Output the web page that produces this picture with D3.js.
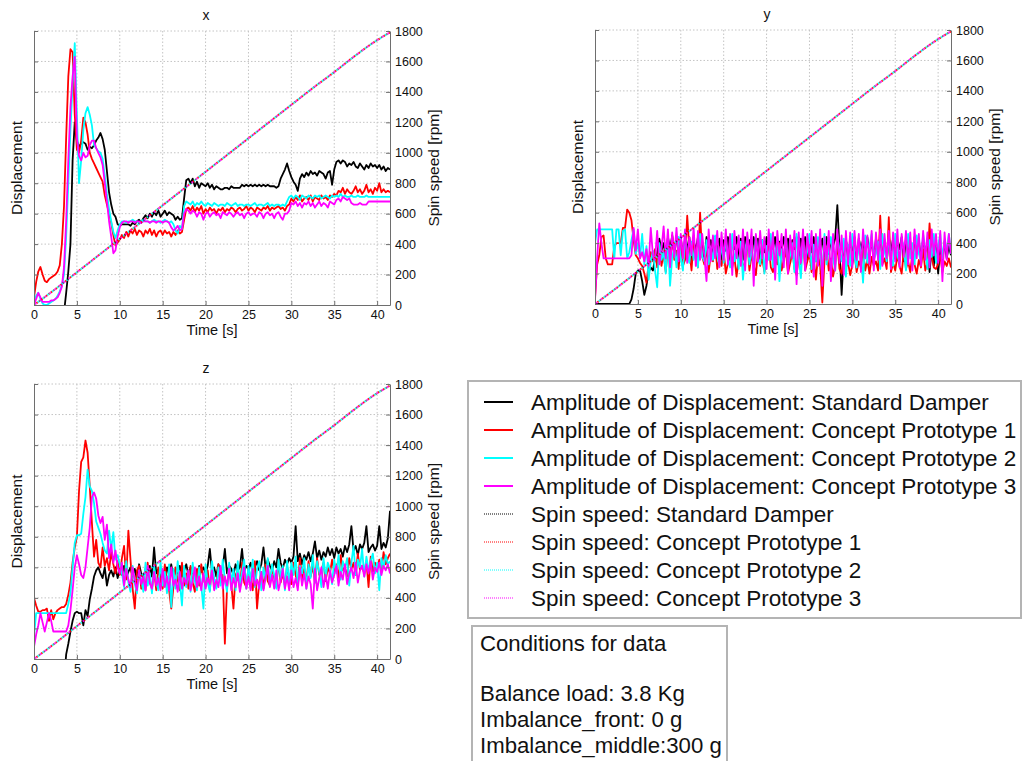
<!DOCTYPE html>
<html><head><meta charset="utf-8">
<script src="https://cdn.jsdelivr.net/npm/d3@7"></script>
<style>
body{margin:0;background:#fff;}
svg{display:block;font-family:"Liberation Sans",Arial,Helvetica,sans-serif;}
</style></head><body>
<svg id="chart" width="1024" height="761"></svg>
<script>
// ---- data ----
const sampleStep = 0.25;                 // s between displacement samples
const timeTicks = [0, 5, 10, 15, 20, 25, 30, 35, 40];
const rpmTicks = [0, 200, 400, 600, 800, 1000, 1200, 1400, 1600, 1800];
const timeMax = 41.5;

const spinTime = [0, 2.5, 5, 7.5, 10, 12.5, 15, 17.5, 20, 22.5, 25, 27.5, 30, 32.5, 35, 37.5, 40, 41.5];
const spinRpm  = [0, 105, 215, 325, 435, 545, 655, 765, 875, 985, 1095, 1205, 1315, 1425, 1530, 1640, 1740, 1790];

const seriesNames = ["Standard Damper", "Concept Prototype 1", "Concept Prototype 2", "Concept Prototype 3"];
const seriesColors = ["#000000", "#ff0000", "#00ffff", "#ff00ff"];
const panelTitles = ["x", "y", "z"];

// displacement amplitude, direction x
const xStandard = [
-3,-3,-3,-3,-3,-3,-3,-3,-3,-3,-3,-3,-3,-2,-0.5,0.8,2.2,4.0,9.5,12.0,
10.8,10.4,10.6,10.7,10.6,10.2,10.4,10.3,10.5,10.8,11.0,11.3,10.9,10.2,8.8,7.4,6.6,6.0,5.8,5.3,
5.2,5.3,5.3,5.3,5.3,5.2,5.4,5.3,5.5,5.6,5.4,5.7,5.9,5.7,6.0,5.8,6.1,5.9,6.2,5.8,
6.0,6.2,5.9,6.1,6.0,5.9,5.6,5.8,5.6,5.7,7.0,8.2,8.3,8.0,8.3,7.8,8.1,7.7,8.0,7.9,
7.8,8.0,7.7,7.9,7.6,7.8,7.7,7.6,7.6,7.7,7.7,7.6,7.8,7.7,7.7,7.7,7.7,7.9,7.8,7.9,
7.8,7.9,7.8,7.9,7.8,7.9,7.8,7.9,7.8,7.9,7.8,7.8,7.8,7.7,7.8,8.3,8.6,8.9,9.3,8.8,
8.4,8.1,7.9,7.5,8.3,8.6,8.4,8.7,8.5,8.8,8.6,8.7,8.5,8.8,8.7,8.6,8.3,8.7,8.8,7.9,
8.9,9.4,9.5,9.3,9.5,9.4,9.1,9.3,9.2,9.4,9.1,9.0,9.3,9.1,8.9,9.2,9.0,9.3,9.1,9.2,
9.0,9.2,8.9,9.1,8.8,9.0,8.9];
const xProto1 = [
0.5,1.5,2.2,2.5,2.0,1.6,1.5,1.7,1.8,1.9,2.0,2.2,2.6,4.0,6.5,11.0,15.0,16.8,16.6,12.5,
10.2,10.0,10.8,12.3,12.0,11.2,10.0,9.6,9.3,9.0,8.7,8.4,8.1,7.2,6.6,6.0,5.4,4.6,3.9,4.1,
4.3,4.6,4.4,4.8,4.5,4.9,4.7,5.0,4.6,4.9,4.8,4.5,4.9,4.7,5.0,4.6,4.9,4.5,4.8,4.9,
4.6,4.9,4.7,4.8,4.5,4.8,4.6,4.9,4.7,4.8,5.6,6.3,6.4,6.2,6.5,6.1,6.4,6.2,6.5,6.0,
6.3,6.1,6.4,6.2,6.3,6.0,6.3,6.2,6.4,6.1,6.3,6.2,6.4,6.3,6.1,6.3,6.4,6.2,6.3,6.5,
6.2,6.4,6.3,6.1,6.4,6.3,6.2,6.4,6.3,6.5,6.2,6.4,6.3,6.4,6.5,6.3,6.4,6.2,6.5,6.6,
7.0,6.8,7.1,6.9,7.2,6.8,7.0,7.1,6.9,7.2,6.8,7.1,7.0,6.9,7.2,7.0,7.1,6.9,7.2,7.1,
7.3,7.2,7.5,7.4,7.7,7.3,7.6,7.4,7.3,7.5,7.8,7.4,7.6,7.3,7.5,7.9,7.4,7.6,7.3,7.7,
7.5,8.0,7.4,7.6,7.4,7.5,7.4];
const xProto2 = [
0.3,0.6,0.8,0.4,0.1,0.0,0.0,0.1,0.2,0.3,0.4,0.6,0.9,1.3,2.0,4.5,8.0,11.5,14.5,17.2,
12.5,8.0,9.5,11.5,12.6,13.0,12.5,11.8,10.5,10.3,10.1,10.0,9.6,8.5,7.3,6.3,5.5,4.8,4.4,4.9,
5.3,5.5,5.5,5.4,5.5,5.5,5.6,5.5,5.5,5.4,5.5,5.6,5.5,5.5,5.4,5.5,5.6,5.5,5.5,5.4,
5.5,5.6,5.5,5.4,5.5,5.3,4.9,4.7,5.2,5.0,6.5,6.8,6.7,6.6,6.8,6.5,6.7,6.6,6.8,6.6,
6.5,6.7,6.6,6.5,6.7,6.6,6.5,6.6,6.6,6.5,6.7,6.6,6.5,6.6,6.7,6.5,6.6,6.6,6.5,6.6,
6.6,6.5,6.6,6.7,6.5,6.6,6.6,6.5,6.6,6.7,6.5,6.6,6.5,6.6,6.6,6.5,6.6,6.5,6.8,7.1,
7.2,7.0,7.2,7.1,6.9,7.2,7.1,7.0,7.2,7.1,7.0,7.2,7.1,7.2,7.0,7.1,7.2,7.1,7.0,7.2,
7.1,7.2,7.1,7.3,7.1,7.2,7.1,7.1,7.2,7.1,7.1,7.2,7.1,7.1,7.1,7.2,7.1,7.1,7.1,7.1,
7.1,7.1,7.1,7.1,7.1,7.1,7.1];
const xProto3 = [
0.0,0.4,0.8,0.5,0.2,0.2,0.2,0.2,0.3,0.3,0.4,0.5,0.8,1.2,2.5,5.5,9.5,13.0,15.0,16.3,
11.0,9.8,9.5,10.0,9.7,9.8,10.5,10.8,10.8,10.3,10.0,9.7,9.2,8.0,6.8,5.5,4.5,3.4,3.6,4.5,
5.1,5.4,5.5,5.5,5.4,5.5,5.5,5.4,5.5,5.5,5.4,5.5,5.5,5.5,5.4,5.5,5.5,5.4,5.5,5.5,
5.4,5.5,5.5,5.4,5.1,4.9,5.0,5.2,4.9,5.0,6.0,6.3,6.2,6.0,6.2,6.1,5.8,6.1,6.0,5.6,
6.0,6.1,5.8,6.0,6.1,5.9,6.0,5.7,6.1,6.0,5.9,6.1,6.0,5.8,6.0,6.1,5.9,6.0,5.7,6.0,
6.1,5.9,6.0,6.0,5.8,6.1,6.0,5.7,6.0,6.1,5.9,6.0,5.7,6.0,6.1,5.8,5.6,6.0,6.0,6.2,
6.7,6.6,6.8,6.5,6.7,6.4,6.7,6.6,6.8,6.5,6.7,6.4,6.6,6.8,6.5,6.7,6.6,6.4,6.8,6.7,
6.6,6.9,7.0,6.8,7.1,7.0,6.9,7.0,6.7,6.6,6.6,6.6,6.7,6.6,6.6,6.6,6.8,6.8,6.8,6.8,
6.8,6.8,6.8,6.8,6.8,6.8,6.8];

// displacement amplitude, direction y
const yStandard = [
0,0,0,0,0,0,0,0,0,0,0,0,0,0,0,0,0,0.3,1.0,2.0,
2.2,2.2,1.5,0.6,1.2,2.1,2.4,2.2,3.0,3.3,4.3,3.5,4.0,3.0,4.4,3.6,4.5,3.2,4.4,3.9,
4.4,3.0,4.3,3.6,4.4,2.8,4.2,3.5,4.4,3.3,4.1,2.9,4.4,3.7,4.2,3.0,4.4,3.4,4.3,2.9,
4.2,3.5,4.4,2.8,4.1,3.6,4.4,3.1,4.3,2.9,4.4,3.7,4.2,3.0,4.4,3.5,4.3,2.8,4.2,3.4,
4.4,3.1,4.3,3.6,4.4,2.9,4.1,3.5,4.4,3.2,4.3,2.7,4.2,3.6,4.4,3.0,4.3,3.5,4.4,2.9,
4.3,3.4,4.4,2.8,4.2,3.6,4.3,3.1,4.4,3.3,4.2,3.8,4.3,6.5,3.6,0.6,3.2,4.3,2.9,4.1,
3.5,4.4,2.8,4.3,3.6,4.2,3.0,4.4,3.4,4.1,2.9,4.3,3.7,4.4,3.1,4.2,2.7,4.4,3.5,4.3,
3.0,4.2,3.6,4.4,2.8,4.3,3.3,4.1,2.6,4.4,3.5,4.2,2.9,4.3,3.4,4.0,2.1,3.6,2.5,4.2,
2.0,3.7,2.8,4.1,3.0,3.8,3.2];
const yProto1 = [
0.4,2.6,3.2,4.4,4.5,3.0,2.6,2.6,2.6,3.8,4.0,4.0,4.0,5.0,5.0,6.2,6.0,5.5,4.2,3.2,
3.0,2.7,2.5,2.0,1.4,2.6,3.4,2.8,3.6,2.4,3.9,2.5,3.3,2.1,3.8,2.6,4.5,2.9,3.5,2.3,
4.0,2.5,2.9,5.8,3.6,2.2,4.2,3.0,2.4,6.0,3.1,2.6,3.7,2.1,3.3,2.8,4.1,2.3,3.0,2.5,
3.5,2.0,2.7,3.9,2.4,3.1,1.8,2.9,3.6,2.3,2.8,4.2,2.2,3.2,2.6,1.9,3.4,2.5,3.0,2.1,
2.9,3.8,2.4,2.1,3.3,2.6,4.0,2.2,2.9,3.5,2.0,2.7,3.6,2.3,1.9,3.1,2.6,4.3,2.2,2.8,
3.4,2.1,2.9,1.6,3.2,2.5,0.1,2.8,3.7,2.2,3.0,1.8,2.6,3.9,2.3,2.0,3.1,2.4,2.7,1.9,
2.6,3.3,2.1,2.8,2.4,3.6,2.2,2.9,2.0,3.1,2.5,2.8,2.2,5.8,2.6,3.0,2.3,5.7,2.1,2.7,
2.2,3.2,2.5,2.0,3.5,2.3,2.8,2.1,3.3,2.6,2.0,2.9,2.4,3.6,2.2,2.7,5.3,3.1,2.4,2.3,
2.6,3.2,2.1,2.8,2.5,3.0,2.4];
const yProto2 = [
4.0,4.9,4.9,4.9,4.9,4.9,4.9,4.9,4.9,3.0,4.9,4.9,3.2,4.8,4.9,3.0,3.4,4.2,4.9,3.3,
4.0,3.0,4.6,2.6,3.8,1.6,2.8,3.5,2.2,1.1,4.0,2.9,3.4,2.0,4.3,1.2,3.1,3.7,2.4,4.4,
3.0,2.2,4.5,3.3,2.7,4.1,2.9,3.5,2.4,4.6,3.1,2.8,4.2,2.6,3.7,2.9,4.5,3.2,2.5,4.0,
2.7,4.3,3.0,2.4,4.6,2.8,3.6,2.3,4.1,1.6,3.3,4.4,2.6,3.8,2.2,4.5,3.0,2.6,4.2,2.0,
3.8,2.9,4.6,2.4,3.3,4.2,1.5,3.6,2.8,4.5,2.5,3.2,4.0,2.1,4.6,3.1,1.7,4.3,2.7,3.5,
4.6,2.3,3.9,2.8,4.4,3.2,1.9,4.6,2.6,3.7,4.4,3.0,2.2,4.6,3.5,2.8,4.3,1.8,3.9,2.5,
4.6,3.1,2.4,4.2,3.4,1.4,4.5,2.7,3.8,4.6,2.9,3.3,4.1,2.3,4.6,3.5,2.8,4.4,3.0,2.5,
4.6,3.2,2.7,4.3,3.6,2.2,4.6,3.0,4.0,2.6,4.5,3.3,2.8,4.6,3.5,2.3,4.2,3.1,4.6,2.7,
3.8,4.6,3.0,4.2,3.5,4.6,3.3];
const yProto3 = [
0.2,3.0,5.3,4.0,3.0,3.0,3.0,3.0,3.0,3.0,3.0,3.0,3.0,3.0,3.0,3.0,3.0,3.2,5.0,3.5,
4.9,3.0,3.4,2.8,3.6,2.5,5.0,3.2,2.9,4.8,2.6,3.6,5.1,3.0,4.9,2.4,4.7,3.1,5.0,2.8,
4.6,3.0,4.9,2.7,4.4,3.2,5.0,2.5,4.8,2.9,4.6,3.1,1.5,4.9,2.8,4.5,3.0,4.8,2.4,4.7,
2.9,4.9,2.6,4.6,1.9,4.8,3.0,4.5,2.5,4.9,2.2,4.7,3.1,4.9,1.2,4.6,2.8,4.8,3.0,4.4,
2.3,4.9,2.9,4.7,1.6,4.8,3.2,4.6,2.4,4.9,2.0,4.5,3.0,4.8,1.3,4.7,2.7,4.9,2.2,4.6,
3.1,4.8,1.8,4.6,2.5,4.9,1.2,4.4,2.9,4.8,1.5,4.6,2.2,4.9,2.7,4.5,1.9,4.8,2.6,4.7,
2.4,4.8,2.9,4.6,2.1,4.9,3.0,4.5,2.6,4.8,2.2,4.7,2.9,4.9,2.5,4.6,3.0,4.8,2.3,4.7,
2.8,4.9,2.4,4.6,3.1,4.8,2.6,4.7,2.2,4.9,3.0,4.6,2.5,4.8,2.9,4.7,2.4,4.9,3.2,4.6,
2.7,4.8,1.5,4.7,2.9,4.6,3.3];

// displacement amplitude, direction z
const zStandard = [
-3,-3,-3,-3,-3,-3,-3,-3,-3,-3,-3,-3,-3,-3,-1.5,0.3,1.0,1.8,2.5,3.0,
3.1,3.0,3.0,2.2,3.2,2.8,3.9,4.6,5.4,5.8,6.0,5.6,5.3,6.0,4.8,5.5,5.8,5.4,6.0,5.3,
5.8,5.5,6.1,5.3,5.7,6.0,5.4,5.9,5.2,6.2,5.6,5.3,5.9,5.5,6.1,5.4,7.3,5.6,5.9,5.3,
5.8,5.4,6.0,5.5,6.2,5.3,5.9,5.6,6.1,5.4,5.8,6.2,5.5,6.0,5.6,5.9,5.3,6.1,5.7,6.0,
5.6,6.1,7.2,5.7,6.0,5.4,6.2,5.8,6.0,7.2,5.6,6.1,5.9,5.5,6.2,5.8,6.0,7.2,5.7,6.1,
5.9,6.3,5.6,6.0,6.4,5.8,6.2,7.3,5.9,6.5,6.1,5.8,6.4,6.0,7.2,6.3,5.9,6.5,6.2,6.6,
6.3,6.7,8.7,6.4,6.9,6.2,6.8,6.5,7.0,6.4,6.9,7.7,6.6,7.1,6.5,7.0,6.7,7.3,6.8,7.2,
6.6,7.3,6.9,7.2,6.7,7.4,7.0,7.5,8.7,7.1,7.4,6.8,7.5,7.2,7.6,8.7,7.0,7.3,7.5,7.1,
7.4,8.7,7.2,7.6,7.3,7.9,9.7];
const zProto1 = [
4.0,3.5,3.1,3.1,3.2,3.2,3.3,2.5,3.2,2.6,3.0,3.2,3.3,3.4,3.4,3.6,4.2,5.0,6.3,7.3,
8.0,11.0,12.9,13.2,14.3,13.5,11.3,8.9,6.7,7.8,6.3,6.0,7.3,6.1,6.6,5.8,7.0,6.2,5.6,6.4,
5.5,6.6,7.4,5.2,8.4,6.5,4.6,3.3,5.8,6.1,4.6,5.4,4.5,6.3,5.0,4.6,5.8,4.5,6.0,5.1,
4.6,6.2,5.0,4.5,3.3,4.7,6.0,5.2,4.5,6.3,4.8,5.6,4.6,6.1,5.0,4.4,5.9,4.8,6.2,5.3,
4.8,5.8,4.5,6.0,5.1,4.7,6.2,5.0,5.5,1.0,4.6,6.1,4.9,3.3,5.5,5.8,4.6,6.3,5.0,4.7,
6.0,5.2,4.5,6.4,3.3,5.0,5.7,4.6,6.2,5.1,4.8,6.0,5.3,4.7,6.4,5.0,5.6,4.8,6.1,5.2,
4.9,6.3,5.5,4.8,6.6,5.2,5.9,5.0,6.4,5.4,6.1,5.0,6.6,5.5,5.8,6.3,5.1,6.0,5.6,6.5,
5.7,6.2,5.3,6.8,5.8,6.0,5.4,6.6,5.9,6.3,5.5,6.9,5.8,6.1,5.6,6.4,4.7,6.7,5.7,6.3,
6.0,6.5,5.8,7.0,6.2,6.6,6.9];
const zProto2 = [
1.5,3.0,3.0,3.0,3.0,3.0,3.0,3.0,3.0,3.0,3.0,3.0,3.0,3.0,3.0,3.0,3.6,4.3,6.0,7.6,
8.1,8.1,8.2,9.5,10.6,12.4,11.3,11.0,10.2,9.0,8.6,8.2,7.6,7.1,6.9,8.4,7.2,8.3,6.5,6.8,
6.2,5.6,4.7,6.4,5.0,4.4,6.1,4.9,4.3,5.8,5.2,4.4,6.3,4.8,5.6,4.3,6.1,5.0,4.5,6.4,
4.8,5.7,4.3,6.2,3.4,5.9,4.6,6.4,5.0,3.5,6.1,4.7,5.8,4.4,6.3,5.1,4.5,6.0,4.8,3.3,
6.2,5.0,4.4,6.4,5.3,4.6,6.0,4.8,6.5,5.2,4.4,6.3,5.0,5.9,4.5,6.4,4.9,5.7,6.5,4.6,
6.1,5.1,6.5,4.7,5.9,6.4,4.5,6.0,5.2,6.6,4.8,6.2,5.5,4.6,6.5,5.3,6.1,4.5,6.4,5.0,
6.3,5.5,6.7,4.8,6.1,5.6,6.6,4.6,6.2,5.3,6.8,5.0,6.4,5.7,4.7,6.6,5.4,6.3,5.9,4.9,
6.5,5.6,6.8,5.2,6.4,5.9,6.6,4.8,6.3,7.4,5.5,6.5,6.0,7.2,5.4,6.7,5.8,6.4,6.9,5.6,
6.3,4.5,6.6,6.0,6.8,6.2,6.4];
const zProto3 = [
0.8,1.6,2.2,3.0,2.4,1.8,2.4,3.0,2.5,1.8,1.8,1.8,1.8,1.8,1.8,1.8,2.2,3.2,4.5,6.0,
6.8,6.2,5.5,5.3,6.0,7.3,8.6,10.6,10.9,10.5,9.4,8.9,9.3,7.8,8.8,6.6,7.5,6.3,7.1,6.0,
5.6,6.3,4.8,5.9,5.2,4.7,6.0,5.1,4.5,5.8,4.9,5.4,4.5,6.1,5.0,4.6,5.7,4.8,5.3,4.5,
5.9,4.7,5.4,4.5,6.0,4.8,5.2,4.4,5.7,4.6,5.3,4.9,5.8,4.5,5.1,6.0,4.7,5.4,4.5,5.6,
4.6,5.3,4.9,5.8,4.5,5.2,4.7,6.1,4.6,5.4,4.8,5.9,4.5,5.3,4.7,5.6,4.4,5.2,6.0,4.6,
5.4,4.5,5.9,4.8,5.2,4.6,5.7,4.5,5.3,6.1,4.7,5.5,4.6,5.8,4.5,5.1,5.9,4.6,5.4,4.5,
5.8,4.7,5.3,4.5,6.0,4.8,5.6,4.6,5.4,4.9,3.3,5.9,4.5,5.3,6.0,4.7,5.5,4.6,5.8,5.0,
5.5,6.1,4.8,5.7,5.2,6.2,4.9,5.6,6.0,5.3,6.3,5.0,5.8,6.1,5.4,6.2,5.6,6.4,5.2,6.0,
5.7,6.3,5.5,6.1,5.8,6.2,5.6];

const conditionsLines = ["Conditions for data", "", "Balance load: 3.8 Kg", "Imbalance_front: 0 g", "Imbalance_middle:300 g"];

// ---- layout ----
const svg = d3.select("#chart");
const panels = [
  { title: panelTitles[0], left: 34,  right: 390, top: 31,  bottom: 305, series: [xStandard, xProto1, xProto2, xProto3] },
  { title: panelTitles[1], left: 595, right: 951, top: 30,  bottom: 304, series: [yStandard, yProto1, yProto2, yProto3] },
  { title: panelTitles[2], left: 34,  right: 390, top: 384, bottom: 659, series: [zStandard, zProto1, zProto2, zProto3] }
];
const axisColor = "#6e6e6e";
const gridColor = "#c4c4c4";
const spinDrawOrder = [0, 2, 1, 3];   // dotted traces interleave so every colour shows

panels.forEach((p, pi) => {
  const g = svg.append("g");
  const x = d3.scaleLinear().domain([0, timeMax]).range([p.left, p.right]);
  const yDisp = d3.scaleLinear().domain([0, 18]).range([p.bottom, p.top]);
  const yRpm = d3.scaleLinear().domain([0, 1800]).range([p.bottom, p.top]);

  // dotted grid
  g.append("g").selectAll("line").data(timeTicks.filter(t => t > 0)).join("line")
    .attr("x1", d => x(d)).attr("x2", d => x(d))
    .attr("y1", p.top).attr("y2", p.bottom)
    .attr("stroke", gridColor).attr("stroke-dasharray", "1.5,2");
  g.append("g").selectAll("line").data(rpmTicks.filter(t => t > 0)).join("line")
    .attr("x1", p.left).attr("x2", p.right)
    .attr("y1", d => yRpm(d)).attr("y2", d => yRpm(d))
    .attr("stroke", gridColor).attr("stroke-dasharray", "1.5,2");

  // clip region for the traces
  const clipId = "clip" + pi;
  svg.append("clipPath").attr("id", clipId).append("rect")
    .attr("x", p.left).attr("y", p.top - 2)
    .attr("width", p.right - p.left).attr("height", p.bottom - p.top + 2);

  const traces = g.append("g").attr("clip-path", `url(#${clipId})`);
  const dispLine = d3.line().x((d, i) => x(i * sampleStep)).y(d => yDisp(d));
  p.series.forEach((vals, si) => {
    traces.append("path").datum(vals)
      .attr("d", dispLine)
      .attr("fill", "none")
      .attr("stroke", seriesColors[si])
      .attr("stroke-width", 1.8)
      .attr("stroke-linejoin", "round");
  });

  // spin speed curves (same speed profile for every damper)
  const spinPts = spinTime.map((t, i) => [t, spinRpm[i]]);
  const spinLine = d3.line().x(d => x(d[0])).y(d => yRpm(d[1])).curve(d3.curveMonotoneX);
  spinDrawOrder.forEach((si, k) => {
    traces.append("path").datum(spinPts)
      .attr("d", spinLine)
      .attr("fill", "none")
      .attr("stroke", seriesColors[si])
      .attr("stroke-opacity", si === 0 ? 0.55 : 0.9)
      .attr("stroke-width", 2)
      .attr("stroke-dasharray", "1.5,4.5")
      .attr("stroke-dashoffset", k * 1.5);
  });

  // axes
  const bottomAxis = d3.axisBottom(x).tickValues(timeTicks).tickSize(-4).tickSizeOuter(0).tickPadding(5).tickFormat(d3.format("d"));
  const rightAxis = d3.axisRight(yRpm).tickValues(rpmTicks).tickSize(-4).tickSizeOuter(0).tickPadding(5).tickFormat(d3.format("d"));
  const leftAxis = d3.axisLeft(yDisp).tickValues(d3.range(0, 19, 2)).tickSize(-4).tickSizeOuter(0).tickFormat("");

  const styleAxis = sel => {
    sel.selectAll("path,line").attr("stroke", axisColor);
    sel.selectAll("text").attr("fill", "#111").style("font-size", "12.5px")
      .style("font-family", '"Liberation Sans", Arial, sans-serif');
  };
  g.append("g").attr("transform", `translate(0,${p.bottom})`).call(bottomAxis).call(styleAxis);
  g.append("g").attr("transform", `translate(${p.right},0)`).call(rightAxis).call(styleAxis);
  g.append("g").attr("transform", `translate(${p.left},0)`).call(leftAxis).call(styleAxis);

  // labels
  const cx = (p.left + p.right) / 2, cy = (p.top + p.bottom) / 2;
  g.append("text").attr("x", cx - 6).attr("y", p.top - 11)
    .attr("text-anchor", "middle").style("font-size", "14px").attr("fill", "#111").text(p.title);
  g.append("text").attr("x", cx).attr("y", p.bottom + 30)
    .attr("text-anchor", "middle").style("font-size", "14.5px").attr("fill", "#111").text("Time [s]");
  g.append("text").attr("transform", `translate(${p.left - 12},${cy}) rotate(-90)`)
    .attr("text-anchor", "middle").style("font-size", "15.5px").attr("fill", "#111").text("Displacement");
  g.append("text").attr("transform", `translate(${p.right + 49},${cy}) rotate(-90)`)
    .attr("text-anchor", "middle").style("font-size", "15.5px").attr("fill", "#111").text("Spin speed [rpm]");
});

// ---- legend ----
const legend = svg.append("g");
legend.append("rect").attr("x", 468).attr("y", 381).attr("width", 553).attr("height", 237)
  .attr("fill", "#fff").attr("stroke", "#b4b4b4").attr("stroke-width", 2);
const legendRows = [];
seriesNames.forEach((n, i) => legendRows.push({ label: "Amplitude of Displacement: " + n, color: seriesColors[i], dotted: false }));
seriesNames.forEach((n, i) => legendRows.push({ label: "Spin speed: " + n, color: seriesColors[i], dotted: true }));
const rowY = d3.scaleLinear().domain([0, 7]).range([402, 598]);
legendRows.forEach((r, i) => {
  const yy = rowY(i);
  legend.append("line").attr("x1", 484).attr("x2", 513).attr("y1", yy).attr("y2", yy)
    .attr("stroke", r.color)
    .attr("stroke-width", r.dotted ? 1 : 2)
    .attr("stroke-dasharray", r.dotted ? "1,1" : null);
  legend.append("text").attr("x", 531).attr("y", yy).attr("dy", "0.36em")
    .style("font-size", "22.5px").attr("fill", "#111").text(r.label);
});

// ---- test conditions box ----
const cond = svg.append("g");
cond.append("rect").attr("x", 472).attr("y", 626).attr("width", 255).attr("height", 145)
  .attr("fill", "#fff").attr("stroke", "#b4b4b4").attr("stroke-width", 2);
const condY = [651, 676, 701, 727, 753];
conditionsLines.forEach((t, i) => {
  cond.append("text").attr("x", 480).attr("y", condY[i])
    .style("font-size", "22.2px").attr("fill", "#111").text(t);
});
</script>
</body></html>
